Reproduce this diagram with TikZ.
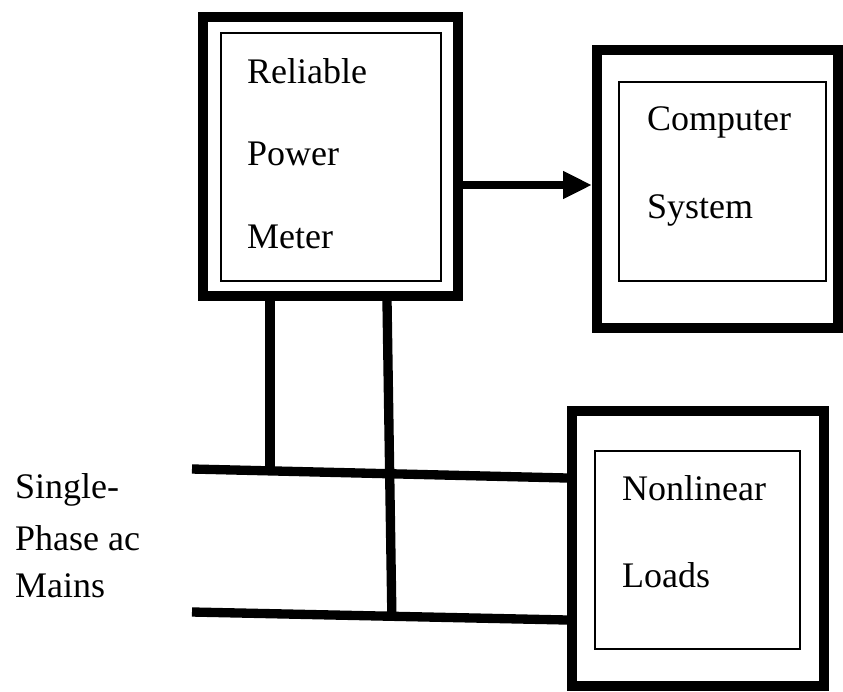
\documentclass[tikz,border=0pt]{standalone}
\usepackage{fontspec}
\setmainfont{Liberation Serif}
\usetikzlibrary{arrows.meta,calc}
\begin{document}
\begin{tikzpicture}[x=0.03cm, y=-0.03cm,
    outerbox/.style={draw, line width=0.3cm, inner sep=0pt},
    innerbox/.style={draw, line width=0.06cm, inner sep=0pt},
    boxtext/.style={anchor=base west, inner sep=0pt, font=\fontsize{30.7}{36}\selectfont},
    wire/.style={line width=0.28cm}]

    \useasboundingbox (0,0) rectangle (843,691);

    % blocks
    \node[outerbox, minimum width=7.65cm, minimum height=8.37cm] (meter) at (330.5,156.5) {};
    \node[innerbox, minimum width=6.6cm, minimum height=7.44cm] (meterin) at (331,157) {};

    \node[outerbox, minimum width=7.23cm, minimum height=8.34cm] (comp) at (717.5,189) {};
    \node[innerbox, minimum width=6.21cm, minimum height=5.97cm] (compin) at (722.5,181.5) {};

    \node[outerbox, minimum width=7.56cm, minimum height=8.25cm] (loads) at (698,548.5) {};
    \node[innerbox, minimum width=6.15cm, minimum height=5.94cm] (loadsin) at (697.5,550) {};

    % texts
    \node[boxtext] (rel) at (247,83) {Reliable};
    \node[boxtext] (pow) at (247,165) {Power};
    \node[boxtext] (met) at (247,248) {Meter};

    \node[boxtext] (cmp) at (647,130) {Computer};
    \node[boxtext] (sys) at (647,218) {System};

    \node[boxtext] (nonlin) at (622,500) {Nonlinear};
    \node[boxtext] (lds) at (622,587) {Loads};

    \node[boxtext] (single) at (15,498) {Single-};
    \node[boxtext] (phase) at (15,550) {Phase ac};
    \node[boxtext] (mains) at (15,597) {Mains};

    % mains lines
    \coordinate (a1) at (192,469);
    \coordinate (b1) at (loads.west |- 0,478);
    \coordinate (a2) at (192,612);
    \coordinate (b2) at (loads.west |- 0,620);
    \coordinate (j1) at ($(a1)!0.208!(b1)$);
    \coordinate (j2) at ($(a2)!0.533!(b2)$);

    \draw[wire] (a1) -- (b1);
    \draw[wire] (a2) -- (b2);
    \draw[wire] (meter.south -| j1) -- (j1);
    \draw[wire] (meter.south -| 387,0) -- (j2);

    % data link
    \draw[wire, line width=0.24cm, -{Triangle[length=0.87cm,width=0.78cm]}] (meter.east |- 0,185) -- (comp.west |- 0,185);

\end{tikzpicture}
\end{document}
